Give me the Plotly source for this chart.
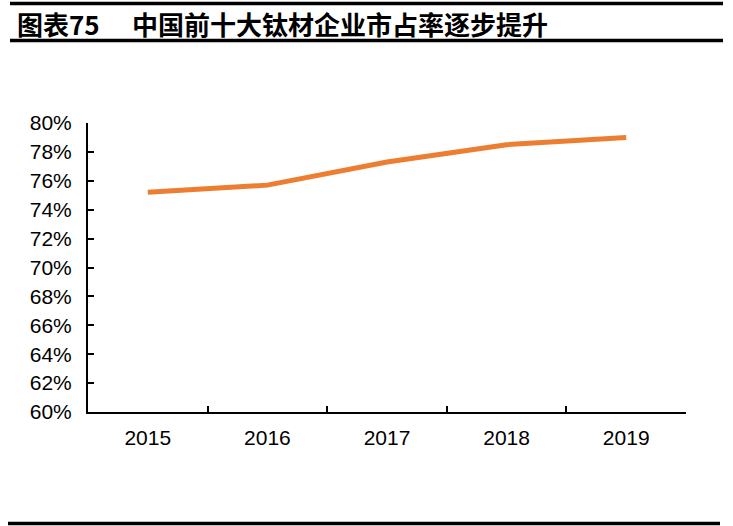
import plotly.graph_objects as go

years = ['2015', '2016', '2017', '2018', '2019']
share = [75.2, 75.7, 77.3, 78.5, 79.0]
y_ticks = list(range(60, 81, 2))

title_label = '图表75'
title_text = '中国前十大钛材企业市占率逐步提升'

W, H = 733, 526
# plot area on screen: x 88..686, y 123..412
L, T = 88, 123
R, B = W - 686, H - 412
pw, ph = W - L - R, H - T - B

def px_x(p):
    return (p - L) / pw

def px_y(p):
    return (H - B - p) / ph

fig = go.Figure()
fig.add_trace(go.Scatter(x=years, y=share, mode='lines',
                         line=dict(color='#ED7D31', width=5),
                         hoverinfo='skip', showlegend=False))

axis_font = dict(family='Liberation Sans, Arial, sans-serif', size=21, color='black')
fig.update_xaxes(type='category', range=[-0.5, 4.5], showline=True, linecolor='black',
                 linewidth=2, ticks='inside', tickson='boundaries', ticklen=6,
                 tickwidth=1.5, tickcolor='black', showgrid=False, zeroline=False,
                 tickfont=axis_font, ticklabelstandoff=6)
fig.update_yaxes(range=[60, 80], tickvals=y_ticks, ticktext=[f'{v}%' for v in y_ticks],
                 showline=True, linecolor='black', linewidth=2, ticks='inside',
                 ticklen=6, tickwidth=1.5, tickcolor='black', showgrid=False,
                 zeroline=False, tickfont=axis_font, ticklabelstandoff=10)

rules = [(3.5, 10, 723), (40.5, 10, 723), (523.5, 8, 720)]
shapes = [dict(type='line', xref='paper', yref='paper', x0=px_x(x0), x1=px_x(x1),
               y0=px_y(p), y1=px_y(p), line=dict(color='black', width=3.5))
          for p, x0, x1 in rules]

title_font = dict(family='Noto Sans CJK SC, sans-serif', size=26, color='black')
annotations = [
    dict(text='<b>' + title_label + '</b>', xref='paper', yref='paper', x=px_x(15),
         y=px_y(23), xanchor='left', yanchor='middle', showarrow=False, font=title_font),
    dict(text='<b>' + title_text + '</b>', xref='paper', yref='paper', x=px_x(130),
         y=px_y(23), xanchor='left', yanchor='middle', showarrow=False, font=title_font),
]

fig.update_layout(width=W, height=H, margin=dict(l=L, r=R, t=T, b=B),
                  plot_bgcolor='white', paper_bgcolor='white',
                  shapes=shapes, annotations=annotations)

# drop the browser's default 8px body margin so the figure sits at the page corner
fig.write_html('out.html', config={'displayModeBar': False},
               post_script="document.body.style.margin = '0';")
